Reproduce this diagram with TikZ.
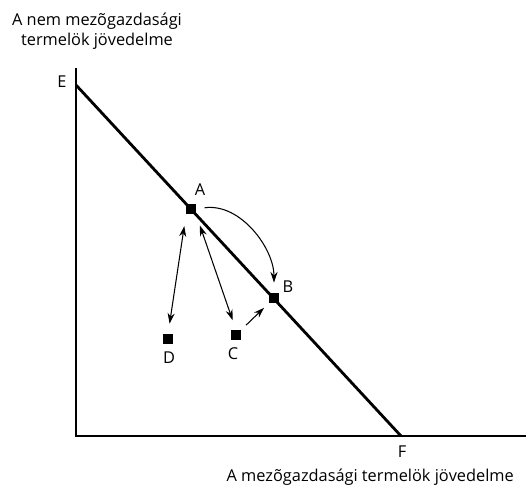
\documentclass[tikz,border=0pt]{standalone}
\usepackage{fontspec}
\setmainfont{Open Sans}
\usetikzlibrary{arrows.meta}
\begin{document}
\begin{tikzpicture}[x=0.02cm,y=-0.02cm,every node/.style={font=\fontsize{9.3}{11.5}\selectfont},
  pt/.style={fill=black,inner sep=0pt,minimum size=5.2pt},
  arr/.style={-{Stealth[length=6pt,width=4pt]},semithick}]
\useasboundingbox (0,0) rectangle (526,488);
% axes
\coordinate (O) at (76,436);
\draw[semithick] (76,68) -- (O) -- (526,436);
\node[align=center] (ylab) at (97,31) {A nem mezõgazdasági\\termelök jövedelme};
\node[anchor=east] (xlab) at (520,477) {A mezõgazdasági termelök jövedelme};
% budget line
\coordinate (E) at (76,85);
\coordinate (F) at (401,436);
\draw[line width=1.6pt] (E) -- (F);
\node (Elab) at (62,82) {E};
\node (Flab) at (402,452) {F};
% points
\node[pt] (A) at (191,209) {};
\node[pt] (B) at (274,298) {};
\node[pt] (C) at (236,335) {};
\node[pt] (D) at (168,339) {};
\node (Alab) at (200,190) {A};
\node (Blab) at (288,287) {B};
\node (Clab) at (233,354) {C};
\node (Dlab) at (169,358) {D};
% moves
\draw[arr,{Stealth[length=6pt,width=4pt]}-{Stealth[length=6pt,width=4pt]},shorten <=6pt,shorten >=7pt] (D.north) -- (A.south west);
\draw[arr,{Stealth[length=6pt,width=4pt]}-{Stealth[length=6pt,width=4pt]},shorten <=7pt,shorten >=6pt] (A.south east) -- (C.north);
\draw[arr,shorten <=4pt,shorten >=4pt] (C.north east) -- (B.south west);
\draw[arr,shorten <=5pt,shorten >=6pt] (A.east) to[out=8,in=90] (B.north);
\end{tikzpicture}
\end{document}
